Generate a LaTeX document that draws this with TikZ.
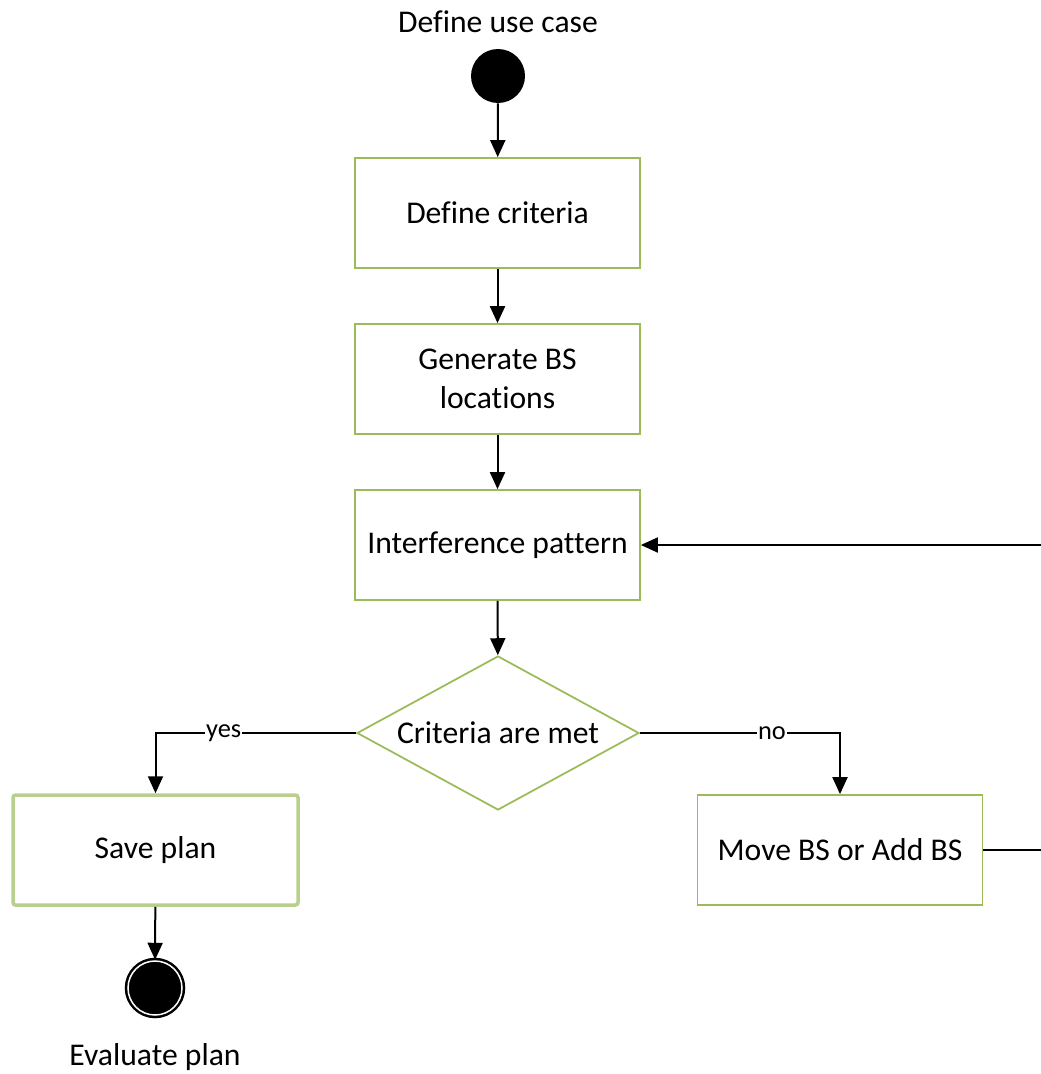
\documentclass[tikz,border=0pt]{standalone}
\usepackage{fontspec}
\setmainfont{Carlito}[Ligatures=NoCommon]
\usepackage{xcolor}
\usetikzlibrary{shapes.geometric, arrows.meta, positioning}
\definecolor{boxgreen}{HTML}{9BBB59}
\definecolor{selgreen}{HTML}{B9CF8E}

\begin{document}
\begin{tikzpicture}[every node/.style={font=\fontsize{18}{22}\selectfont},
  stepbox/.style={draw=boxgreen, line width=0.035cm, fill=white, minimum width=5.7cm, minimum height=2.2cm, align=center},
  decision/.style={diamond, draw=boxgreen, line width=0.035cm, fill=white, aspect=1.83, inner sep=0pt, minimum width=5.64cm, minimum height=3.08cm},
  line/.style={draw, line width=0.04cm, -{Triangle[width=0.3cm, length=0.34cm]}},
  lbl/.style={fill=white, inner sep=0.5pt, font=\fontsize{15}{18}\selectfont}]
\useasboundingbox (0,0) rectangle (20.82,-21.48);
\clip (0,0) rectangle (20.82,-21.48);
\node (title) at (9.96,-0.44) {Define use case};
\node[circle, fill=black, minimum size=1.08cm, inner sep=0pt] (start) at (9.96,-1.52) {};
\node[stepbox] (crit) at (9.95,-4.26) {Define criteria};
\node[stepbox] (gen) at (9.95,-7.58) {Generate BS\\locations};
\node[stepbox] (inter) at (9.95,-10.9) {Interference pattern};
\node[decision] (dec) at (9.96,-14.66) {Criteria are met};
\node[stepbox, draw=selgreen, line width=0.07cm, rounded corners=0.05cm] (save) at (3.11,-17.0) {Save plan};
\node[stepbox] (move) at (16.8,-17.0) {Move BS or Add BS};
\node[circle, draw=black, fill=black, line width=0.05cm, double=white, double distance=0.03cm, minimum size=1.08cm, inner sep=0pt] (stop) at (3.1,-19.76) {};
\node (eval) at (3.1,-21.14) {Evaluate plan};
\draw[line] (start) -- (crit);
\draw[line] (crit) -- (gen);
\draw[line] (gen) -- (inter);
\draw[line] (inter) -- (dec);
\draw[line] (dec.west) -| node[pos=0.33, lbl] {yes} (save.north);
\draw[line] (dec.east) -| node[pos=0.33, lbl] {no} (move.north);
\draw[line] (save) -- (stop);
\draw[line] (move.east) -- ++(2,0) |- (inter.east);
\end{tikzpicture}
\end{document}
